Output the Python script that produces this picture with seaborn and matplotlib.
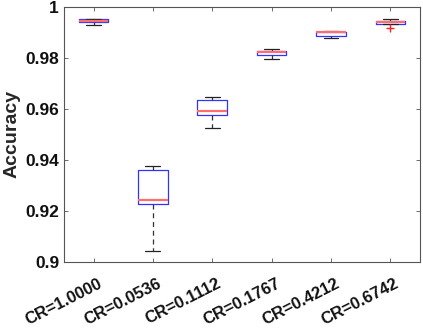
import numpy as np
import pandas as pd
import matplotlib
matplotlib.use("Agg")
import matplotlib.pyplot as plt
import matplotlib.transforms as mtransforms
import seaborn as sns

categories = ["CR=1.0000", "CR=0.0536", "CR=0.1112", "CR=0.1767", "CR=0.4212", "CR=0.6742"]
# five-number summaries per group: lower whisker, q1, median, q3, upper whisker
low_whisker = [0.99306, 0.90420, 0.95243, 0.97949, 0.98796, 0.99322]
q1_vals     = [0.99400, 0.92263, 0.95753, 0.98118, 0.98863, 0.99345]
medians     = [0.99440, 0.92410, 0.95933, 0.98222, 0.99008, 0.99400]
q3_vals     = [0.99518, 0.93596, 0.96353, 0.98286, 0.99020, 0.99451]
up_whisker  = [0.99541, 0.93776, 0.96471, 0.98365, 0.99047, 0.99529]
outlier_cat = ["CR=0.6742"]
outlier_val = [0.99180]
yticks = [0.9, 0.92, 0.94, 0.96, 0.98, 1.0]
ytick_labels = ["0.9", "0.92", "0.94", "0.96", "0.98", "1"]

rows = []
for i, c in enumerate(categories):
    for v in (low_whisker[i], q1_vals[i], medians[i], q3_vals[i], up_whisker[i]):
        rows.append({"CR": c, "Accuracy": v})
df = pd.DataFrame(rows)
df_out = pd.DataFrame({"CR": outlier_cat, "Accuracy": outlier_val})

sns.set_theme(style="white")
plt.rcParams["font.family"] = ["Liberation Sans", "DejaVu Sans"]
plt.rcParams["font.weight"] = "bold"

fig = plt.figure(figsize=(4.23, 3.29), dpi=100)
ax = fig.add_axes([0.151, 0.204, 0.842, 0.775])

sns.boxplot(data=df, x="CR", y="Accuracy", order=categories, ax=ax,
            whis=np.inf, width=0.5, fill=False, showfliers=False,
            boxprops=dict(color="#3333ff", linewidth=0.9),
            medianprops=dict(color="#ff6e6e", linewidth=1.6),
            whiskerprops=dict(color="#333333", linestyle=(0, (4, 3)), linewidth=0.9),
            capprops=dict(color="#222222", linewidth=0.9))
sns.scatterplot(data=df_out, x="CR", y="Accuracy", ax=ax, marker="+",
                color="#ff2020", s=40, linewidth=1.0, zorder=5)

ax.set_xlim(-0.5, 5.5)
ax.set_ylim(0.9, 1.0)
ax.set_yticks(yticks)
ax.set_yticklabels(ytick_labels, fontsize=12.5, fontweight="bold")
ax.set_xticks(range(len(categories)))
ax.set_xticklabels(categories, fontsize=12, fontweight="bold", rotation=27,
                   ha="right", va="top", rotation_mode="anchor")
ax.set_xlabel("")
ax.set_ylabel("Accuracy", fontsize=14, fontweight="bold", labelpad=3)

for s in ax.spines.values():
    s.set_visible(True)
    s.set_color("#555555")
    s.set_linewidth(0.8)
ax.tick_params(direction="in", length=3, width=0.6, color="#555555",
               top=True, right=True, left=True, bottom=True,
               labelcolor="#111111")
ax.tick_params(axis="y", pad=3.5)
ax.tick_params(axis="x", pad=10)
offset = mtransforms.ScaledTranslation(3 / 72, 0, fig.dpi_scale_trans)
for lab in ax.get_xticklabels():
    lab.set_transform(lab.get_transform() + offset)

fig.savefig("out.png", dpi=100)
